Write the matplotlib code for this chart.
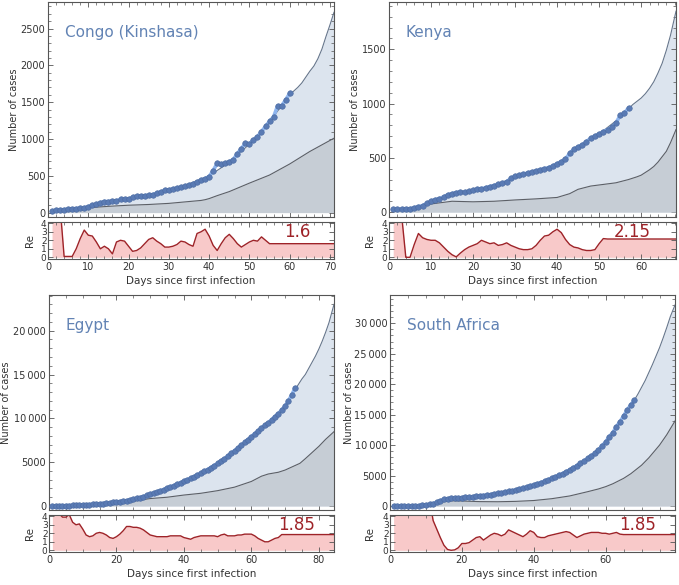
import numpy as np
import matplotlib.pyplot as plt
from matplotlib.ticker import MultipleLocator, FuncFormatter

# ---- CONGO (KINSHASA) ----
congo_days = np.arange(1, 61)
congo_cases = [20, 30, 35, 40, 45, 50, 55, 60, 65, 80,
               100, 110, 135, 150, 150, 160, 160, 180, 180, 180,
               210, 220, 225, 230, 235, 245, 260, 280, 300, 310,
               320, 330, 345, 355, 370, 390, 410, 440, 460, 490,
               570, 670, 660, 670, 690, 720, 800, 870, 940, 930,
               990, 1030, 1100, 1170, 1240, 1300, 1450, 1450, 1530, 1620]
congo_fit_x = [1, 5, 10, 15, 20, 25, 30, 35, 40, 45, 50, 55, 60, 62, 63, 64, 65, 66, 67, 68, 69, 70, 71]
congo_fit_y = [20, 45, 75, 130, 190, 240, 310, 390, 500, 680, 930, 1230, 1600, 1700, 1760, 1840, 1920,
               1990, 2090, 2220, 2390, 2550, 2720]
congo_inf_x = [1, 5, 10, 15, 20, 25, 30, 35, 38, 39, 40, 42, 45, 50, 55, 60, 65, 71]
congo_inf_y = [10, 35, 65, 85, 100, 110, 125, 150, 165, 175, 190, 230, 285, 400, 510, 660, 830, 1010]
congo_re = [6, 6, 6, 0.1, 0.1, 0.1, 1.0, 2.2, 3.2, 2.6,
            2.5, 1.8, 1.0, 1.3, 1.0, 0.4, 1.8, 2.0, 1.9, 1.3,
            0.7, 0.8, 1.1, 1.6, 2.1, 2.3, 1.9, 1.6, 1.2, 1.2,
            1.3, 1.5, 1.9, 1.8, 1.5, 1.3, 2.8, 3.0, 3.3, 2.5,
            1.4, 0.8, 1.6, 2.3, 2.7, 2.2, 1.6, 1.2, 1.5, 1.8,
            2.0, 1.9, 2.4, 2.0, 1.6]

# ---- KENYA ----
kenya_days = np.arange(1, 58)
kenya_cases = [25, 25, 27, 28, 30, 40, 50, 60, 80, 100,
               115, 125, 140, 160, 170, 180, 185, 185, 190, 200,
               210, 215, 225, 235, 245, 255, 265, 280, 310, 330,
               340, 350, 360, 370, 380, 390, 400, 410, 425, 445,
               465, 490, 540, 580, 600, 620, 650, 680, 700, 720,
               740, 760, 780, 820, 890, 910, 960]
kenya_fit_x = [1, 5, 10, 15, 20, 25, 30, 35, 40, 43, 45, 50, 55, 57, 58, 59, 60, 61, 62, 63, 64, 65, 66, 67, 68.3]
kenya_fit_y = [20, 30, 95, 165, 200, 245, 325, 385, 440, 540, 600, 720, 870, 950, 990, 1020, 1050, 1090,
               1140, 1200, 1280, 1370, 1490, 1630, 1850]
kenya_inf_x = [1, 5, 10, 15, 20, 25, 30, 35, 40, 43, 45, 48, 51, 54, 57, 59, 60, 61, 62, 63, 64, 65, 66, 67, 68.3]
kenya_inf_y = [15, 35, 75, 100, 95, 100, 112, 122, 135, 170, 210, 240, 255, 270, 300, 325, 340, 365,
               390, 420, 460, 510, 560, 640, 760]
kenya_re = [6, 6, 5, 0, 0, 1.5, 2.8, 2.3, 2.1, 2.0,
            2.0, 1.7, 1.2, 0.7, 0.3, 0.05, 0.5, 0.9, 1.2, 1.4,
            1.6, 2.0, 1.8, 1.6, 1.7, 1.4, 1.5, 1.7, 1.4, 1.2,
            1.0, 0.9, 0.9, 1.0, 1.4, 2.0, 2.5, 2.6, 3.0, 3.3,
            2.9, 2.1, 1.5, 1.2, 1.1, 0.9, 0.8, 0.8, 0.9, 1.6,
            2.2, 2.15]

# ---- EGYPT ----
egypt_days = np.arange(1, 74)
egypt_cases = [0, 10, 20, 30, 40, 50, 60, 80, 100, 120,
               140, 160, 190, 220, 250, 280, 310, 350, 400, 450,
               500, 560, 620, 690, 770, 860, 960, 1070, 1200, 1350,
               1480, 1610, 1740, 1880, 2020, 2170, 2320, 2480, 2640, 2810,
               2980, 3160, 3340, 3530, 3730, 3940, 4150, 4380, 4620, 4870,
               5130, 5400, 5690, 6000, 6310, 6620, 6930, 7250, 7580, 7910,
               8250, 8580, 8900, 9200, 9500, 9850, 10200, 10550, 10950, 11400,
               12000, 12700, 13500]
egypt_fit_x = [1, 10, 20, 25, 30, 35, 40, 45, 50, 55, 60, 65, 70, 73, 74, 75, 76, 77, 78, 79, 80, 81, 82, 83, 84.5]
egypt_fit_y = [0, 120, 440, 760, 1350, 2000, 2800, 3720, 4850, 6300, 7900, 9450, 11300, 13300, 13900,
               14500, 15000, 15700, 16400, 17100, 17900, 18800, 19800, 20900, 23000]
egypt_inf_x = [1, 10, 20, 25, 30, 35, 40, 45, 50, 55, 60, 63, 65, 68, 70, 72, 74.4, 76, 78, 80, 82, 84.5]
egypt_inf_y = [0, 60, 300, 550, 850, 1000, 1250, 1450, 1750, 2150, 2800, 3400, 3650, 3850, 4100, 4450,
               4870, 5400, 6100, 6800, 7600, 8480]
egypt_re = [6, 5, 4.3, 3.9, 3.9, 4.2, 3.3, 3.0, 3.1, 2.5,
            1.8, 1.6, 1.7, 2.0, 2.1, 2.0, 1.8, 1.5, 1.4, 1.6,
            1.9, 2.3, 2.8, 2.8, 2.7, 2.7, 2.6, 2.4, 2.1, 1.8,
            1.7, 1.6, 1.6, 1.6, 1.6, 1.7, 1.7, 1.7, 1.7, 1.5,
            1.4, 1.3, 1.5, 1.6, 1.7, 1.7, 1.7, 1.7, 1.7, 1.6,
            1.8, 1.9, 1.7, 1.7, 1.7, 1.8, 1.8, 1.9, 1.9, 1.9,
            1.7, 1.4, 1.2, 1.0, 1.0, 1.2, 1.4, 1.5, 1.85]

# ---- SOUTH AFRICA ----
sa_days = np.arange(1, 69)
sa_cases = [0, 5, 10, 15, 20, 30, 40, 60, 100, 160,
            250, 400, 600, 850, 1100, 1200, 1260, 1300, 1340, 1370,
            1420, 1480, 1530, 1590, 1640, 1720, 1800, 1880, 1980, 2080,
            2180, 2290, 2400, 2510, 2630, 2780, 2930, 3100, 3270, 3450,
            3650, 3850, 4070, 4300, 4540, 4800, 5060, 5330, 5610, 5910,
            6260, 6620, 7000, 7400, 7830, 8220, 8650, 9150, 9900, 10500,
            11390, 12040, 13030, 13850, 14780, 15770, 16590, 17410]
sa_fit_x = [1, 10, 13, 15, 17, 20, 25, 30, 35, 40, 45, 50, 55, 60, 65, 68, 69, 70, 71, 72, 73, 74,
            75, 76, 77, 78, 79.3]
sa_fit_y = [0, 150, 600, 1100, 1260, 1370, 1640, 2080, 2630, 3450, 4540, 5910, 7830, 10560, 14780,
            17400, 18400, 19500, 20600, 21900, 23200, 24600, 26000, 27600, 29300, 31100, 33000]
sa_inf_x = [1, 5, 10, 13, 15, 17, 20, 25, 30, 35, 40, 45, 50, 55, 58, 60, 62, 65, 67, 70, 72, 75, 77, 79.3]
sa_inf_y = [0, 50, 150, 400, 700, 850, 820, 720, 700, 760, 900, 1200, 1650, 2350, 2800, 3175, 3650,
            4540, 5300, 6700, 7900, 10000, 11700, 13960]
sa_re = [6, 6, 6, 6, 6, 6, 6, 6, 6, 6,
         6, 3.5, 2.5, 1.5, 0.6, 0.1, 0.0, 0.05, 0.3, 0.8,
         0.8, 0.9, 1.2, 1.5, 1.6, 1.2, 1.5, 1.8, 2.0, 1.9,
         1.7, 1.9, 2.4, 2.2, 2.0, 1.8, 1.6, 1.9, 2.3, 2.1,
         1.6, 1.5, 1.5, 1.7, 1.8, 1.9, 2.0, 2.1, 2.2, 2.1,
         1.8, 1.5, 1.7, 1.9, 2.0, 2.1, 2.1, 2.1, 2.0, 2.0,
         1.9, 2.0, 2.1, 1.9, 1.85]

PANELS = [
    dict(name="Congo (Kinshasa)", days=congo_days, cases=congo_cases,
         fit=(congo_fit_x, congo_fit_y), inf=(congo_inf_x, congo_inf_y),
         re=congo_re, re_last="1.6", re_last_val=1.6, re_text_x=61.8,
         xmax=71, ylim=(-60, 2860), ymajor=500, yminor=100, xmajor=10, xminor=2,
         box=(48, 2, 334), ylab_px=19, relab_px=35),
    dict(name="Kenya", days=kenya_days, cases=kenya_cases,
         fit=(kenya_fit_x, kenya_fit_y), inf=(kenya_inf_x, kenya_inf_y),
         re=kenya_re, re_last="2.15", re_last_val=2.15, re_text_x=58,
         xmax=68.3, ylim=(-45, 1935), ymajor=500, yminor=100, xmajor=10, xminor=2,
         box=(389, 2, 676), ylab_px=360, relab_px=375),
    dict(name="Egypt", days=egypt_days, cases=egypt_cases,
         fit=(egypt_fit_x, egypt_fit_y), inf=(egypt_inf_x, egypt_inf_y),
         re=egypt_re, re_last="1.85", re_last_val=1.85, re_text_x=73.5,
         xmax=84.5, ylim=(-456, 24070), ymajor=5000, yminor=1000, xmajor=20, xminor=5,
         box=(49, 295, 334), ylab_px=11, relab_px=35),
    dict(name="South Africa", days=sa_days, cases=sa_cases,
         fit=(sa_fit_x, sa_fit_y), inf=(sa_inf_x, sa_inf_y),
         re=sa_re, re_last="1.85", re_last_val=1.85, re_text_x=68.9,
         xmax=79.3, ylim=(-657, 34650), ymajor=5000, yminor=1000, xmajor=20, xminor=5,
         box=(390, 295, 675), ylab_px=354, relab_px=375),
]

W, H = 679, 585
TITLE_C = '#6283b4'
DOT_C = '#5a7bb4'
FIT_C = '#66768c'
GLOW_C = '#8fb5ee'
FILL_C = '#dce4ee'
INF_FILL = '#c6cdd5'
INF_LINE = '#5c5f66'
RE_FILL = '#f8c9c9'
RE_LINE = '#9e2328'
FRAME_C = '#555555'
TICK_C = '#333333'


def fmt_num(v, pos):
    v = int(round(v))
    if abs(v) >= 10000:
        return f"{v:,}".replace(",", "\u2009")
    return str(v)


def style(ax):
    for sp in ax.spines.values():
        sp.set_color(FRAME_C)
        sp.set_linewidth(0.8)
    ax.tick_params(which='both', direction='in', top=True, right=True,
                   colors=FRAME_C, labelcolor=TICK_C, labelsize=7, pad=2)
    ax.tick_params(which='major', length=3.5, width=0.6)
    ax.tick_params(which='minor', length=2, width=0.5)


fig = plt.figure(figsize=(W / 100, H / 100), dpi=100)

for p in PANELS:
    left, top, right = p['box']
    width = right - left
    main_bottom = top + 215
    ax = fig.add_axes([left / W, 1 - main_bottom / H, width / W, 215 / H])
    re_top = main_bottom + 5
    rax = fig.add_axes([left / W, 1 - (re_top + 37) / H, width / W, 37 / H])

    fx, fy = p['fit']
    ix, iy = p['inf']
    ax.fill_between(fx, fy, 0, color=FILL_C, lw=0, zorder=1)
    ax.fill_between(ix, iy, 0, color=INF_FILL, lw=0, zorder=2)
    ax.plot(ix, iy, color=INF_LINE, lw=0.8, zorder=3)
    ax.plot(fx, fy, color=FIT_C, lw=0.8, zorder=3)
    ax.plot(p['days'], p['cases'], color=GLOW_C, lw=2.6, zorder=4,
            solid_capstyle='round')
    ax.plot(p['days'], p['cases'], 'o', ms=4, color=DOT_C,
            mec='#4b6aa0', mew=0.4, zorder=5)

    ax.set_xlim(0, p['xmax'])
    ax.set_ylim(*p['ylim'])
    ax.xaxis.set_major_locator(MultipleLocator(p['xmajor']))
    ax.xaxis.set_minor_locator(MultipleLocator(p['xminor']))
    ax.yaxis.set_major_locator(MultipleLocator(p['ymajor']))
    ax.yaxis.set_minor_locator(MultipleLocator(p['yminor']))
    ax.yaxis.set_major_formatter(FuncFormatter(fmt_num))
    style(ax)
    ax.tick_params(axis='x', labelbottom=False)
    ax.set_ylabel("Number of cases", fontsize=7, color=TICK_C)
    ax.yaxis.set_label_coords((p['ylab_px'] - left) / width, 0.5)
    ax.text(0.058, 0.86, p['name'], transform=ax.transAxes, fontsize=11,
            color=TITLE_C, va='center', ha='left')

    # Re panel: daily values, then held at the last estimate
    re_x = list(range(1, len(p['re']) + 1)) + [p['xmax']]
    re_y = list(p['re']) + [p['re_last_val']]
    rax.fill_between(re_x, re_y, 0, color=RE_FILL, lw=0)
    rax.plot(re_x, re_y, color=RE_LINE, lw=1.0)
    rax.set_xlim(0, p['xmax'])
    rax.set_ylim(-0.2, 4.15)
    rax.xaxis.set_major_locator(MultipleLocator(p['xmajor']))
    rax.xaxis.set_minor_locator(MultipleLocator(p['xminor']))
    rax.yaxis.set_major_locator(MultipleLocator(1))
    style(rax)
    rax.tick_params(axis='y', labelsize=6.5, pad=1)
    rax.set_ylabel("Re", fontsize=7.5, color=TICK_C)
    rax.yaxis.set_label_coords((p['relab_px'] - left) / width, 0.5)
    rax.set_xlabel("Days since first infection", fontsize=7.5, color=TICK_C, labelpad=3)
    rax.text(p['re_text_x'], 3.0, p['re_last'], fontsize=12, color=RE_LINE,
             ha='center', va='center')

fig.savefig('out.png', dpi=100)
